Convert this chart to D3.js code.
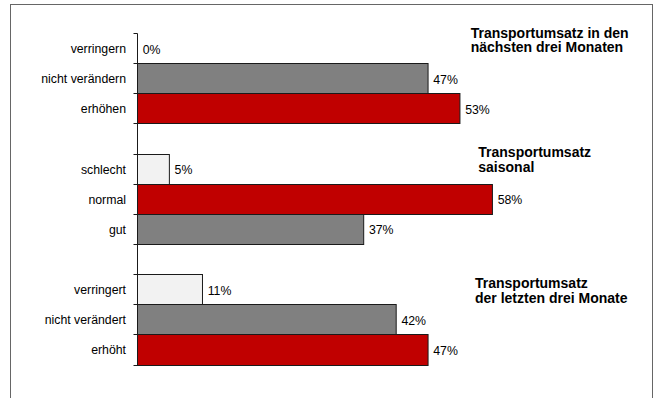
<!DOCTYPE html>
<html>
<head>
<meta charset="utf-8">
<script src="https://cdn.jsdelivr.net/npm/d3@7"></script>
<style>
  html, body { margin: 0; padding: 0; background: #fff; }
  svg { display: block; }
  text { font-family: "Liberation Sans", Arial, sans-serif; fill: #000; }
</style>
</head>
<body>
<svg id="chart" width="655" height="398"></svg>
<script>
// ---- data ----
const slots = ["g1a", "g1b", "g1c", "gap1", "g2a", "g2b", "g2c", "gap2", "g3a", "g3b", "g3c"];
const categories = ["verringern", "nicht verändern", "erhöhen", "", "schlecht", "normal", "gut", "", "verringert", "nicht verändert", "erhöht"];
const values = [0, 47.4, 52.6, null, 5.2, 57.9, 36.9, null, 10.6, 42.2, 47.4];
const kinds = ["light", "gray", "red", null, "light", "red", "gray", null, "light", "gray", "red"];
const groupTitles = [
  ["Transportumsatz in den", "nächsten drei Monaten"],
  ["Transportumsatz", "saisonal"],
  ["Transportumsatz", "der letzten drei Monate"]
];

// ---- drawing ----
const svg = d3.select("#chart");
const colors = { light: "#f2f2f2", gray: "#808080", red: "#c00000" };

// outer frame
svg.append("rect")
  .attr("x", 10.5).attr("y", 4.5)
  .attr("width", 642).attr("height", 420)
  .attr("fill", "none").attr("stroke", "#666").attr("stroke-width", 1);

const x = d3.scaleLinear().domain([0, 100]).range([137.5, 137.5 + 613]);
const y = d3.scaleBand().domain(slots).range([33.5, 365]).padding(0);

const rows = slots.map((s, i) => ({ slot: s, cat: categories[i], v: values[i], kind: kinds[i] }));
const barRows = rows.filter(d => d.v !== null);

// bars
svg.append("g").selectAll("rect")
  .data(barRows.filter(d => d.v > 0))
  .join("rect")
  .attr("x", x(0))
  .attr("y", d => Math.round(y(d.slot) - 0.5) + 0.5)
  .attr("width", d => x(d.v) - x(0))
  .attr("height", d => Math.round(y(d.slot) + y.bandwidth() - 0.5) - Math.round(y(d.slot) - 0.5))
  .attr("fill", d => colors[d.kind])
  .attr("stroke", "#1a1a1a")
  .attr("stroke-width", 1);

// axis line
svg.append("line")
  .attr("x1", x(0)).attr("x2", x(0))
  .attr("y1", y.range()[0]).attr("y2", y.range()[1])
  .attr("stroke", "#1a1a1a").attr("stroke-width", 1);

// ticks at band boundaries
const boundaries = slots.map(s => y(s)).concat([y.range()[1]]);
svg.append("g").selectAll("line")
  .data(boundaries)
  .join("line")
  .attr("x1", x(0) - 4).attr("x2", x(0))
  .attr("y1", d => Math.round(d - 0.5) + 0.5).attr("y2", d => Math.round(d - 0.5) + 0.5)
  .attr("stroke", "#1a1a1a").attr("stroke-width", 1);

// category labels
svg.append("g").selectAll("text")
  .data(rows.filter(d => d.cat))
  .join("text")
  .attr("x", x(0) - 11.5)
  .attr("y", d => y(d.slot) + y.bandwidth() / 2 + 4.5)
  .attr("text-anchor", "end")
  .style("font-size", "12.3px")
  .text(d => d.cat);

// value labels
const fmt = v => Math.round(v) + "%";
svg.append("g").selectAll("text")
  .data(barRows)
  .join("text")
  .attr("x", d => x(d.v) + 5.2)
  .attr("y", d => y(d.slot) + y.bandwidth() / 2 + 5)
  .style("font-size", "12.3px")
  .text(d => fmt(d.v));

// group titles
const titlePos = [
  { x: 470.7, y: 37.7 },
  { x: 478.3, y: 157.3 },
  { x: 475, y: 288.3 }
];
groupTitles.forEach((lines, i) => {
  const t = svg.append("text")
    .attr("x", titlePos[i].x)
    .attr("y", titlePos[i].y)
    .style("font-size", "14px")
    .style("font-weight", "bold");
  lines.forEach((ln, j) => {
    t.append("tspan")
      .attr("x", titlePos[i].x)
      .attr("dy", j === 0 ? 0 : 14.6)
      .text(ln);
  });
});
</script>
</body>
</html>
